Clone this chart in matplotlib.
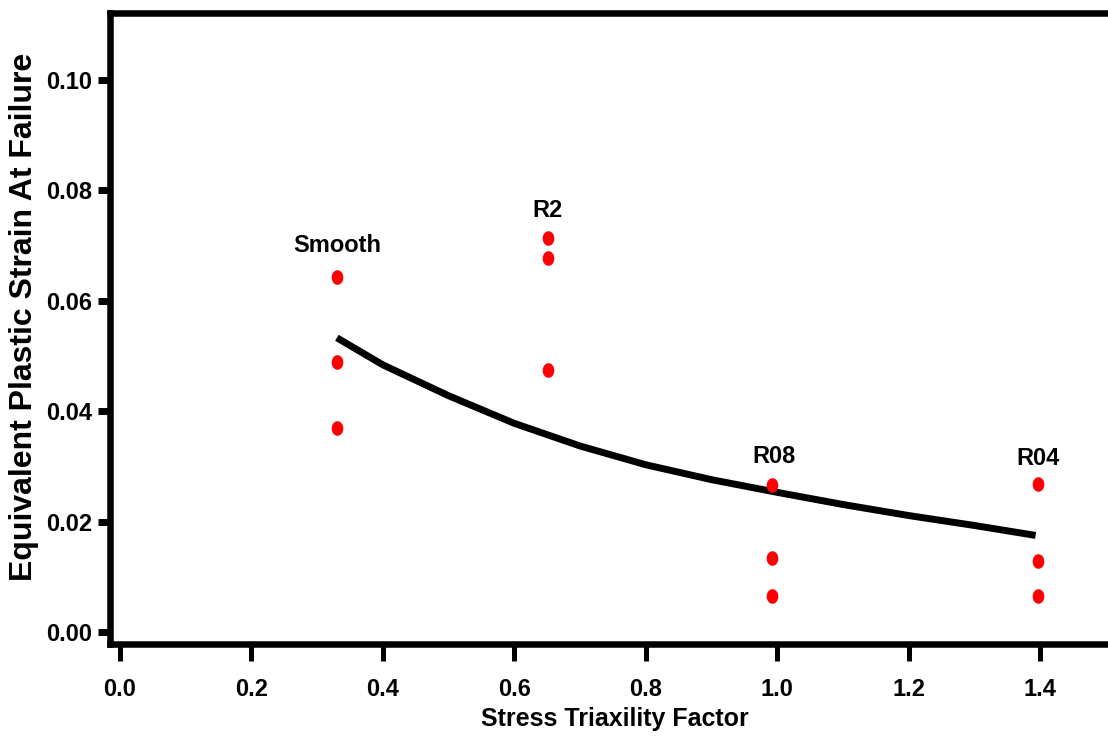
import matplotlib
matplotlib.use("Agg")
import matplotlib.pyplot as plt
import numpy as np
from matplotlib.path import Path

# ---- data ----
smooth_x = [0.33, 0.33, 0.33]
smooth_y = [0.0643, 0.0489, 0.0370]
r2_x = [0.651, 0.651, 0.651]
r2_y = [0.0714, 0.0678, 0.0475]
r08_x = [0.992, 0.992, 0.992]
r08_y = [0.0266, 0.0134, 0.0065]
r04_x = [1.396, 1.396, 1.396]
r04_y = [0.0268, 0.0129, 0.0065]

curve_x = [0.33, 0.40, 0.50, 0.60, 0.70, 0.80, 0.90, 1.00, 1.10, 1.20, 1.30, 1.393]
curve_y = [0.0533, 0.0484, 0.0428, 0.0378, 0.0337, 0.0303, 0.0276, 0.0253,
           0.0231, 0.0211, 0.0193, 0.0175]

labels = ["Smooth", "R2", "R08", "R04"]
label_x = [0.33, 0.651, 0.995, 1.396]
label_y = [0.0688, 0.0752, 0.0306, 0.0303]

xticks = [0.0, 0.2, 0.4, 0.6, 0.8, 1.0, 1.2, 1.4]
yticks = [0.00, 0.02, 0.04, 0.06, 0.08, 0.10]

NARROW = ["Liberation Sans Narrow", "Liberation Sans", "DejaVu Sans"]
WIDE = ["Liberation Sans", "DejaVu Sans"]

fig = plt.figure(figsize=(11.08, 7.40), dpi=100)
ax = fig.add_axes([0.0997, 0.1304, 1.0 - 0.0997 + 0.01, 0.9824 - 0.1304])

# ellipse marker (taller than wide)
t = np.linspace(0, 2 * np.pi, 60)
ell = Path(np.column_stack([0.8 * np.cos(t), np.sin(t)]), closed=True)

for xs, ys in [(smooth_x, smooth_y), (r2_x, r2_y), (r08_x, r08_y), (r04_x, r04_y)]:
    ax.plot(xs, ys, linestyle="none", marker=ell, markersize=10.5,
            color="#ff0000", markeredgewidth=0, zorder=3)

ax.plot(curve_x, curve_y, color="black", linewidth=5, solid_capstyle="butt",
        solid_joinstyle="round", zorder=2)

for lab, lx, ly in zip(labels, label_x, label_y):
    ax.text(lx, ly, lab, ha="center", va="baseline", fontsize=17,
            fontweight="bold", family=NARROW)

ax.set_xlim(-0.0145, 1.52)
ax.set_ylim(-0.00208, 0.11214)
ax.set_xticks(xticks)
ax.set_yticks(yticks)
ax.set_xticklabels([f"{v:.1f}" for v in xticks], fontsize=17, fontweight="bold", family=NARROW)
ax.set_yticklabels([f"{v:.2f}" for v in yticks], fontsize=17, fontweight="bold", family=NARROW)

for s in ["left", "top", "bottom"]:
    ax.spines[s].set_linewidth(4.7)
ax.spines["right"].set_visible(False)

ax.tick_params(axis="x", direction="out", length=12, width=3.6, pad=13)
ax.tick_params(axis="y", direction="out", length=8.3, width=5, pad=5)

ax.set_xlabel("Stress Triaxility Factor", fontsize=18, fontweight="bold",
              family=NARROW, labelpad=4)
ax.set_ylabel("Equivalent Plastic Strain At Failure", fontsize=23,
              fontweight="bold", family=WIDE)
ax.yaxis.set_label_coords(-0.071, 0.518)

fig.savefig("out.png", dpi=100)
